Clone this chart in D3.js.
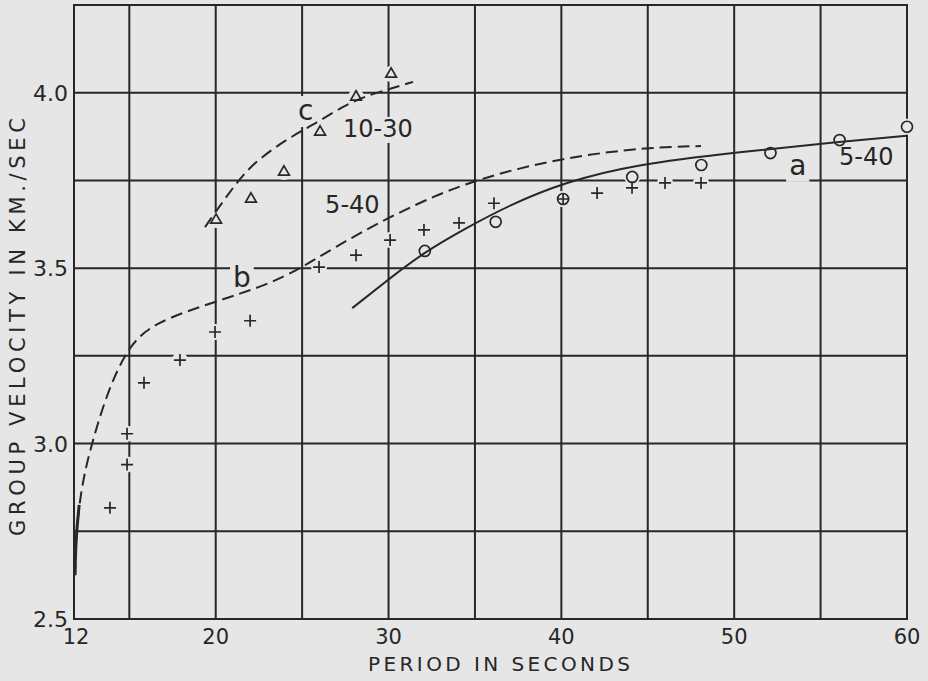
<!DOCTYPE html>
<html>
<head>
<meta charset="utf-8">
<script src="https://cdn.jsdelivr.net/npm/d3@7"></script>
<style>
  body { margin: 0; background: #e6e6e6; }
  svg { display: block; }
</style>
</head>
<body>
<div id="chart"></div>
<script>
// group velocity vs period plot, curves a, b, c with observed points

// axes: tick values and labels (left edge of frame is the "12" line)
var periodTicks = [11.8, 20, 30, 40, 50, 60];
var periodTickLabels = ["12", "20", "30", "40", "50", "60"];
var periodGrid = [15, 20, 25, 30, 35, 40, 45, 50, 55];
var velocityTicks = [2.5, 3.0, 3.5, 4.0];
var velocityTickLabels = ["2.5", "3.0", "3.5", "4.0"];
var velocityGrid = [2.75, 3.0, 3.25, 3.5, 3.75, 4.0];

// curve a, solid (5-40)
var curveA = [[27.9, 3.386], [30.1, 3.472], [32.0, 3.543], [34.4, 3.612], [37.0, 3.68],
    [40.2, 3.745], [44.2, 3.795], [50.2, 3.831], [56.1, 3.860], [60.0, 3.877]];
// curve b, dashed (5-40)
var curveB = [[11.86, 2.625], [11.9, 2.725], [12.1, 2.825], [12.38, 2.91], [12.84, 3.002],
    [13.71, 3.144], [14.9, 3.275], [16.4, 3.345], [19.96, 3.404], [22.97, 3.452],
    [25.05, 3.503], [26.79, 3.557], [29.91, 3.643], [34.37, 3.746], [40.16, 3.817],
    [45.19, 3.845], [48.08, 3.848]];
// curve c, dashed (10-30)
var curveC = [[19.38, 3.617], [21.0, 3.731], [22.16, 3.80], [24.3, 3.874], [25.86, 3.914],
    [27.95, 3.98], [30.09, 4.011], [31.42, 4.031]];

// observed points
var circlePoints = [[32.1, 3.549], [36.2, 3.632], [40.1, 3.697], [44.1, 3.76], [48.1, 3.794],
    [52.1, 3.828], [56.1, 3.865], [60.0, 3.903]];
var plusPoints = [[13.88, 2.817], [14.87, 2.94], [14.87, 3.028], [15.85, 3.173], [17.93, 3.238],
    [19.96, 3.318], [21.99, 3.35], [25.98, 3.503], [28.12, 3.537], [30.09, 3.58],
    [32.05, 3.609], [34.08, 3.629], [36.1, 3.685], [40.1, 3.697], [42.07, 3.714],
    [44.09, 3.729], [46.0, 3.743], [48.08, 3.743]];
var trianglePoints = [[20.02, 3.637], [22.04, 3.697], [23.95, 3.774], [26.04, 3.888],
    [28.12, 3.988], [30.15, 4.053]];

// curve annotations, anchored in data units
var curveLabels = ["c", "10-30", "5-40", "b", "a", "5-40"];
var curveLabelAt = [[24.76, 3.922], [27.37, 3.874], [26.33, 3.657], [21.0, 3.446], [53.18, 3.766], [56.07, 3.794]];
var curveLabelSize = ["big", "small", "small", "big", "big", "small"];

var ink = "#272727";
var paper = "#e6e6e6";
var font = "'DejaVu Sans', 'Liberation Sans', sans-serif";

var svg = d3.select("#chart")
    .append("svg")
    .attr("width", 928)
    .attr("height", 681)
    .style("background", paper);

var x = d3.scaleLinear().domain([11.8, 60]).range([74, 907]);
var y = d3.scaleLinear().domain([2.5, 4.25]).range([619, 5]);

// grid
var grid = svg.append("g").attr("stroke", ink).attr("stroke-width", 2);
grid.selectAll(".vgrid")
    .data(periodGrid)
    .enter()
    .append("line")
    .attr("x1", function (d) { return x(d); })
    .attr("x2", function (d) { return x(d); })
    .attr("y1", y(2.5))
    .attr("y2", y(4.25));
grid.selectAll(".hgrid")
    .data(velocityGrid)
    .enter()
    .append("line")
    .attr("x1", x(11.8))
    .attr("x2", x(60))
    .attr("y1", function (d) { return y(d); })
    .attr("y2", function (d) { return y(d); });
grid.append("rect")
    .attr("x", x(11.8))
    .attr("y", y(4.25))
    .attr("width", x(60) - x(11.8))
    .attr("height", y(2.5) - y(4.25))
    .attr("fill", "none");

// halos: the original drafting leaves gaps in the grid around marks and labels
var halo = svg.append("g").attr("fill", paper);
halo.selectAll(".mhalo")
    .data(plusPoints.concat(circlePoints, trianglePoints))
    .enter()
    .append("circle")
    .attr("cx", function (d) { return x(d[0]); })
    .attr("cy", function (d) { return y(d[1]); })
    .attr("r", 8);

// labels (drawn now so their box can be measured for the halo)
var labels = svg.append("g")
    .attr("fill", ink)
    .style("font-family", font);

labels.selectAll(".curveLabel")
    .data(curveLabels)
    .enter()
    .append("text")
    .attr("class", "curveLabel")
    .attr("x", function (d, i) { return x(curveLabelAt[i][0]); })
    .attr("y", function (d, i) { return y(curveLabelAt[i][1]); })
    .style("font-size", function (d, i) { return curveLabelSize[i] == "big" ? "28px" : "24px"; })
    .text(function (d) { return d; })
    .each(function () {
        var b = this.getBBox();
        halo.append("rect")
            .attr("x", b.x - 3).attr("y", b.y + 2)
            .attr("width", b.width + 6).attr("height", b.height - 2);
    });

// curves
var line = d3.line()
    .x(function (d) { return x(d[0]); })
    .y(function (d) { return y(d[1]); })
    .curve(d3.curveBasis);

var curves = svg.append("g")
    .attr("fill", "none")
    .attr("stroke", ink)
    .attr("stroke-width", 2);
curves.append("path").attr("d", line(curveA));
curves.append("path").attr("d", line(curveB)).attr("stroke-dasharray", "12,6");
curves.append("path").attr("d", line(curveC)).attr("stroke-dasharray", "12,6");
// heavy ink where curve b runs into the left frame
curves.append("path").attr("d", line(curveB.slice(0, 3))).attr("stroke-width", 3);

// markers
var marks = svg.append("g")
    .attr("fill", "none")
    .attr("stroke", ink)
    .attr("stroke-width", 1.7);
marks.selectAll(".circ")
    .data(circlePoints)
    .enter()
    .append("circle")
    .attr("cx", function (d) { return x(d[0]); })
    .attr("cy", function (d) { return y(d[1]); })
    .attr("r", 5.5);
marks.selectAll(".plus")
    .data(plusPoints)
    .enter()
    .append("path")
    .attr("transform", function (d) { return "translate(" + x(d[0]) + "," + y(d[1]) + ")"; })
    .attr("d", "M-6,0H6M0,-6V6");
marks.selectAll(".tri")
    .data(trianglePoints)
    .enter()
    .append("path")
    .attr("transform", function (d) { return "translate(" + x(d[0]) + "," + y(d[1]) + ")"; })
    .attr("d", d3.symbol().type(d3.symbolTriangle).size(50));

// tick labels
labels.selectAll(".xtick")
    .data(periodTicks)
    .enter()
    .append("text")
    .attr("x", function (d) { return x(d) + (d == 11.8 ? 2 : 0); })
    .attr("y", y(2.5) + 25)
    .style("font-size", "21px")
    .style("text-anchor", "middle")
    .text(function (d, i) { return periodTickLabels[i]; });

labels.selectAll(".ytick")
    .data(velocityTicks)
    .enter()
    .append("text")
    .attr("x", 68)
    .attr("y", function (d) { return y(d) + 8; })
    .style("font-size", "22px")
    .style("text-anchor", "end")
    .text(function (d, i) { return velocityTickLabels[i]; });

// axis titles
labels.append("text")
    .attr("x", 368)
    .attr("y", 671)
    .attr("textLength", 262)
    .attr("lengthAdjust", "spacing")
    .style("font-size", "20px")
    .text("PERIOD IN SECONDS");

labels.append("text")
    .attr("transform", "translate(25,536) rotate(-90)")
    .attr("textLength", 418)
    .attr("lengthAdjust", "spacing")
    .style("font-size", "21px")
    .text("GROUP VELOCITY IN KM./SEC");
</script>
</body>
</html>
